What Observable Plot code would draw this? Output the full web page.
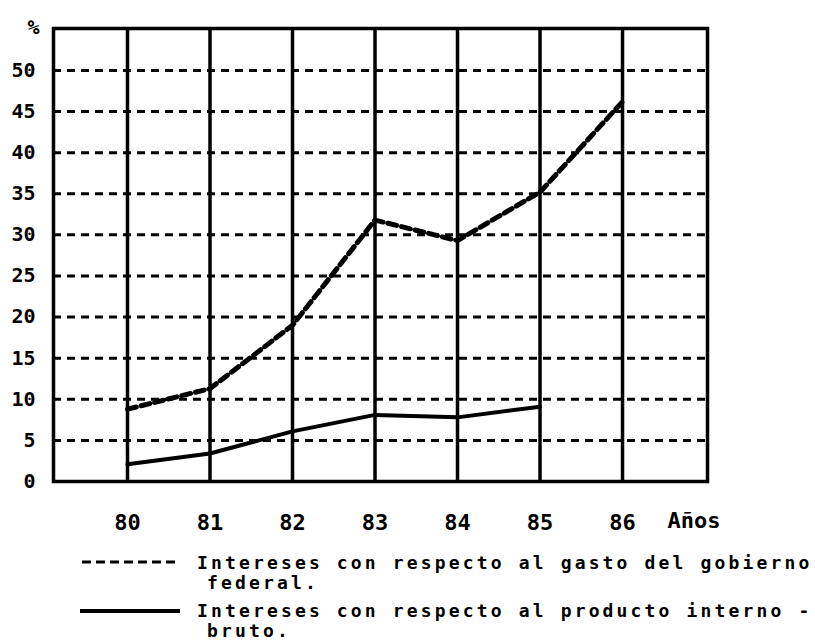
<!DOCTYPE html>
<html>
<head>
<meta charset="utf-8">
<script src="https://cdn.jsdelivr.net/npm/d3@7"></script>
<script src="https://cdn.jsdelivr.net/npm/@observablehq/plot@0.6"></script>
<style>
  html, body { margin: 0; padding: 0; background: #fff; }
  #chart svg { display: block; }
  #legend { display: block; }
</style>
</head>
<body>
<div id="chart"></div>
<div id="legend"></div>
<script>
// ---- data ----
const years = [80, 81, 82, 83, 84, 85, 86];
const gastoFederal = [8.8, 11.3, 19.0, 31.8, 29.3, 35.2, 46.2];   // % respecto al gasto del gobierno federal
const pibYears = [80, 81, 82, 83, 84, 85];
const productoInterno = [2.1, 3.4, 6.1, 8.1, 7.8, 9.1];           // % respecto al producto interno bruto
const yTicks = [0, 5, 10, 15, 20, 25, 30, 35, 40, 45, 50];
const gridLevels = [5, 10, 15, 20, 25, 30, 35, 40, 45, 50];
const yUnit = "%";
const xLabel = "Años";
const legendLines = [
  ["Intereses con respecto al gasto del gobierno", "federal."],
  ["Intereses con respecto al producto interno -", "bruto."]
];

const gastoData = years.map((x, i) => ({x, y: gastoFederal[i]}));
const pibData = pibYears.map((x, i) => ({x, y: productoInterno[i]}));

const FONT = "'DejaVu Sans Mono', 'Liberation Mono', monospace";

const chart = Plot.plot({
  width: 815,
  height: 545,
  marginLeft: 53,
  marginRight: 108,
  marginTop: 28,
  marginBottom: 64,
  x: {domain: [79.103, 87.03]},
  y: {domain: [0, 55.1]},
  style: {fontFamily: FONT, background: "white", color: "black"},
  marks: [
    Plot.ruleY(gridLevels, {stroke: "black", strokeWidth: 3, strokeDasharray: "8,6"}),
    Plot.ruleX(years, {stroke: "black", strokeWidth: 3.5}),
    Plot.line(gastoData, {x: "x", y: "y", stroke: "black", strokeWidth: 5, strokeDasharray: "9,5"}),
    Plot.line(pibData, {x: "x", y: "y", stroke: "black", strokeWidth: 4}),
    Plot.frame({stroke: "black", strokeWidth: 3.5}),
    Plot.axisY({ticks: yTicks, tickSize: 0, tickPadding: 18, fontSize: 20, fontWeight: "bold", label: null}),
    Plot.axisX({ticks: years, tickSize: 0, tickPadding: 33, fontSize: 22, fontWeight: "bold", label: null, tickFormat: d => String(d)}),
    Plot.text([yUnit], {frameAnchor: "top-left", text: d => d, dx: -26, dy: -9, fontSize: 20, fontWeight: "bold"}),
    Plot.text([xLabel], {frameAnchor: "bottom-right", text: d => d, textAnchor: "end", dx: 13, dy: 46, fontSize: 22, fontWeight: "bold"})
  ]
});
document.getElementById("chart").appendChild(chart);

// ---- legend below the plot ----
const lg = d3.select("#legend").append("svg")
  .attr("width", 815).attr("height", 98)
  .style("font-family", FONT).style("font-weight", "bold")
  .style("font-size", "18px").style("letter-spacing", "3.15px");

lg.append("line").attr("x1", 82).attr("x2", 178).attr("y1", 17).attr("y2", 17)
  .attr("stroke", "black").attr("stroke-width", 3).attr("stroke-dasharray", "9,5");
lg.append("line").attr("x1", 80).attr("x2", 180).attr("y1", 66).attr("y2", 66)
  .attr("stroke", "black").attr("stroke-width", 4);

const rowBaselines = [24, 72];
legendLines.forEach((lines, i) => {
  const t = lg.append("text").attr("y", rowBaselines[i]);
  t.append("tspan").attr("x", 197).text(lines[0]);
  t.append("tspan").attr("x", 207).attr("dy", 20).text(lines[1]);
});
</script>
</body>
</html>
